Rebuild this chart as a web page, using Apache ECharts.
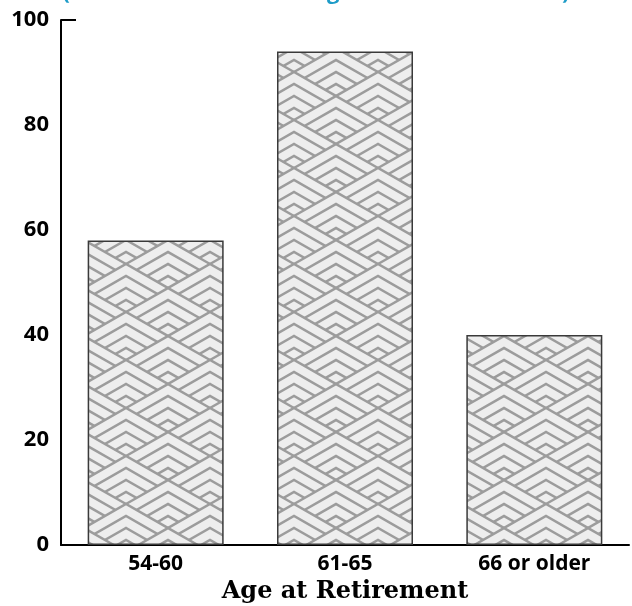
<!DOCTYPE html>
<html>
<head>
<meta charset="utf-8">
<script src="https://cdn.jsdelivr.net/npm/echarts@6/dist/echarts.min.js"></script>
<style>
  html, body { margin: 0; padding: 0; background: #fff; }
  #chart { width: 632px; height: 606px; }
</style>
</head>
<body>
<div id="chart"></div>
<script>
const categories = ['54-60', '61-65', '66 or older'];
const retirees = [58, 94, 40];
const yTicks = [0, 20, 40, 60, 80, 100];
const titleText = '(Number of Staff Retiring at Each Stated Time)';
const axisName = 'Age at Retirement';

// nested chevron fill, painted row by row so each row covers the one above
function makeChevronPattern() {
  const W = 84, H = 24, gap = 12, lines = 4;
  const c = document.createElement('canvas');
  c.width = W;
  c.height = 2 * H;
  const ctx = c.getContext('2d');
  ctx.fillStyle = '#eeeeee';
  ctx.fillRect(0, 0, W, 2 * H);
  ctx.strokeStyle = '#9c9c9c';
  ctx.lineWidth = 2.5;
  for (let r = -8; r <= 4; r++) {
    const cy = r * H;
    const shift = (r & 1) ? W / 2 : 0;
    for (let k = -2; k <= 2; k++) {
      const cx = k * W + shift;
      ctx.beginPath();
      ctx.moveTo(cx - W / 2, cy + H);
      ctx.lineTo(cx, cy);
      ctx.lineTo(cx + W / 2, cy + H);
      ctx.lineTo(cx + W / 2, cy + 5 * H);
      ctx.lineTo(cx - W / 2, cy + 5 * H);
      ctx.closePath();
      ctx.fill();
      for (let d = 0; d < lines; d++) {
        ctx.beginPath();
        ctx.moveTo(cx - W / 2, cy + H + d * gap);
        ctx.lineTo(cx, cy + d * gap);
        ctx.lineTo(cx + W / 2, cy + H + d * gap);
        ctx.stroke();
      }
    }
  }
  return c;
}

const chart = echarts.init(document.getElementById('chart'));
const sansBold = '"Open Sans", "DejaVu Sans", sans-serif';

const option = {
  backgroundColor: '#ffffff',
  animation: false,
  title: {
    text: titleText,
    left: 'center',
    top: -23,
    textStyle: {
      color: '#1e9cc8',
      fontSize: 22,
      fontWeight: 'bold',
      fontFamily: sansBold
    }
  },
  grid: { left: 61, right: 3, top: 20, bottom: 61, outerBoundsMode: 'none' },
  xAxis: {
    type: 'category',
    data: categories,
    name: axisName,
    nameLocation: 'middle',
    nameGap: 31,
    nameTextStyle: {
      color: '#000',
      fontSize: 24,
      fontWeight: 'bold',
      fontFamily: '"DejaVu Serif", "Liberation Serif", serif'
    },
    axisLine: { lineStyle: { color: '#000', width: 2 } },
    axisTick: { inside: true, length: 12, lineStyle: { color: '#000', width: 2 } },
    axisLabel: {
      color: '#000',
      fontSize: 21,
      fontWeight: 'bold',
      fontFamily: sansBold,
      margin: 9
    }
  },
  yAxis: [
    {
      type: 'value',
      min: yTicks[0],
      max: yTicks[yTicks.length - 1],
      interval: yTicks[1] - yTicks[0],
      axisLine: { show: true, lineStyle: { color: '#000', width: 2 } },
      axisTick: { show: false },
      splitLine: { show: false },
      axisLabel: {
        color: '#000',
        fontSize: 22,
        fontWeight: 'bold',
        fontFamily: sansBold,
        margin: 12
      }
    },
    {
      // only the top end of the y axis carries a tick
      type: 'value',
      position: 'left',
      min: yTicks[0],
      max: yTicks[yTicks.length - 1],
      interval: yTicks[yTicks.length - 1],
      axisLine: { show: false },
      axisLabel: { show: false },
      splitLine: { show: false },
      axisTick: { show: true, inside: true, length: 15, lineStyle: { color: '#000', width: 2 } }
    }
  ],
  series: [
    {
      type: 'bar',
      data: retirees,
      barWidth: 136,
      itemStyle: {
        color: { image: makeChevronPattern(), repeat: 'repeat' },
        borderColor: '#3a3a3a',
        borderWidth: 1.5
      }
    }
  ]
};

chart.setOption(option);
</script>
</body>
</html>
